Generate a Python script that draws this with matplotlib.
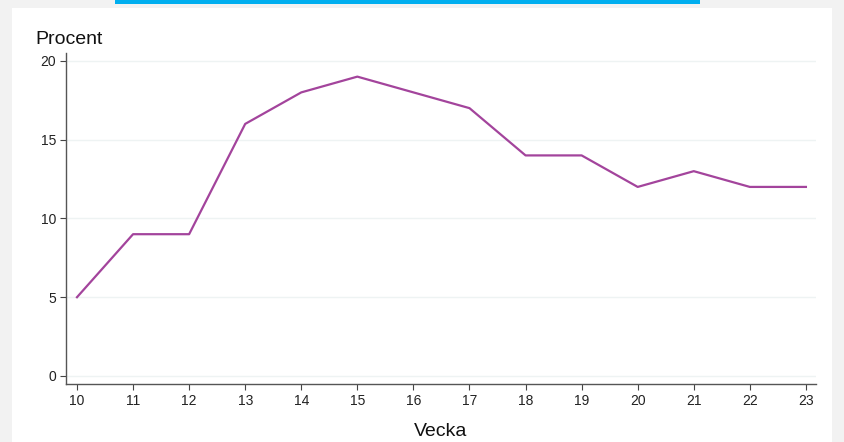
import matplotlib
matplotlib.use("Agg")
import matplotlib.pyplot as plt
from matplotlib.patches import Rectangle

plt.rcParams['font.family'] = ['Liberation Sans', 'DejaVu Sans']

weeks = [10, 11, 12, 13, 14, 15, 16, 17, 18, 19, 20, 21, 22, 23]
percent = [5, 9, 9, 16, 18, 19, 18, 17, 14, 14, 12, 13, 12, 12]
yticks = [0, 5, 10, 15, 20]

W, H = 844, 442
fig = plt.figure(figsize=(W / 100, H / 100), dpi=100, facecolor='#f2f2f2')
# white card
fig.patches.append(Rectangle((12 / W, 0), (832 - 12) / W, (H - 8) / H,
                             transform=fig.transFigure, facecolor='white',
                             edgecolor='none', zorder=-2))
# blue bar at top
fig.patches.append(Rectangle((115 / W, 1 - 4 / H), (700 - 115) / W, 4 / H,
                             transform=fig.transFigure, facecolor='#00aeef',
                             edgecolor='none', zorder=-1))

ax = fig.add_axes([66 / W, 1 - 384 / H, (816 - 66) / W, (384 - 53) / H])
ax.set_facecolor('none')
ax.plot(weeks, percent, color='#a3449c', linewidth=1.6, zorder=3)

ax.set_xlim(9.804, 23.18)
ax.set_ylim(-0.508, 20.5)
ax.set_xticks(weeks)
ax.set_yticks(yticks)
ax.tick_params(axis='both', labelsize=10, length=4, width=0.8, color='#444444',
               labelcolor='#222222', pad=3)
for s in ['top', 'right']:
    ax.spines[s].set_visible(False)
for s in ['left', 'bottom']:
    ax.spines[s].set_color('#555555')
    ax.spines[s].set_linewidth(1.0)
ax.grid(axis='y', color='#eef3f3', linewidth=1.0)
ax.set_axisbelow(True)

fig.text(35 / W, 1 - 40 / H, 'Procent', fontsize=14, color='#111111',
         ha='left', va='center')
fig.text(441 / W, 1 - 432 / H, 'Vecka', fontsize=14, color='#111111',
         ha='center', va='center')

fig.savefig('out.png', dpi=100, facecolor=fig.get_facecolor())
